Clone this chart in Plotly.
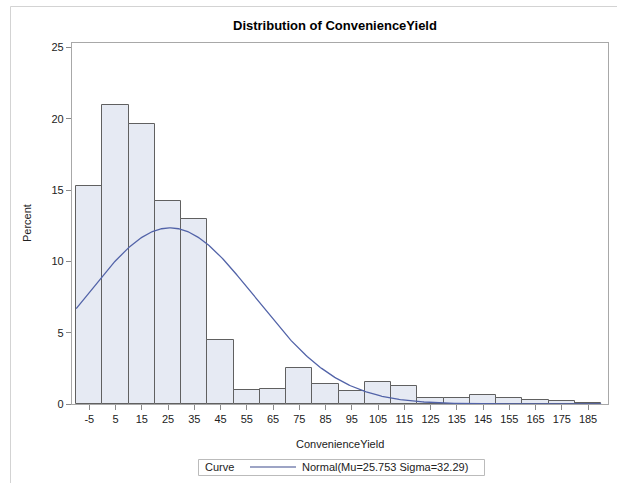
import numpy as np
import plotly.graph_objects as go

# Histogram bins (midpoints) and percent values
bin_mid = [-5, 5, 15, 25, 35, 45, 55, 65, 75, 85, 95, 105, 115, 125, 135, 145, 155, 165, 175, 185]
percent = [15.28, 20.97, 19.64, 14.25, 12.99, 4.49, 0.98, 1.05, 2.52, 1.40, 0.91, 1.56, 1.26,
           0.42, 0.42, 0.65, 0.42, 0.28, 0.21, 0.09]
BIN_WIDTH = 10
MU = 25.753
SIGMA = 32.29
x_ticks = bin_mid
y_ticks = [0, 5, 10, 15, 20, 25]

# fitted normal curve (percent scale) from the legend parameters
xc = np.arange(bin_mid[0] - BIN_WIDTH / 2, bin_mid[-1] + BIN_WIDTH / 2 + 0.01, 0.5)
yc = 100 * BIN_WIDTH * np.exp(-0.5 * ((xc - MU) / SIGMA) ** 2) / (SIGMA * np.sqrt(2 * np.pi))

FONT = "Liberation Sans, Arial, sans-serif"
CURVE_COLOR = "#5263A8"

fig = go.Figure()
fig.add_trace(go.Bar(
    x=bin_mid, y=percent, width=BIN_WIDTH,
    marker=dict(color="#E6EAF3", line=dict(color="#606060", width=1)),
    showlegend=False, hoverinfo="x+y",
))
fig.add_trace(go.Scatter(
    x=xc, y=yc, mode="lines",
    line=dict(color=CURVE_COLOR, width=1.3),
    name="Normal(Mu=25.753 Sigma=32.29)", showlegend=False,
))

# plot area: x 72..608, y 43..404 in a 617x483 window
L, R, T, B = 72, 9, 43, 79
W, H = 617, 483
pw, ph = W - L - R, H - T - B

def px(xp):
    return (xp - L) / pw

def py(yp):
    return (H - B - yp) / ph

ann = [
    dict(text="<b>Distribution of ConvenienceYield</b>", x=px(335), y=py(25),
         font=dict(size=13, color="#000000")),
    dict(text="Percent", x=px(27), y=py(223), textangle=-90,
         font=dict(size=11, color="#222222")),
    dict(text="ConvenienceYield", x=px(340), y=py(444),
         font=dict(size=11, color="#222222")),
    # legend
    dict(text="Curve", x=px(203), y=py(467), xanchor="left",
         font=dict(size=11, color="#222222")),
    dict(text="Normal(Mu=25.753 Sigma=32.29)", x=px(300), y=py(467), xanchor="left",
         font=dict(size=11, color="#222222")),
]
for a in ann:
    a.setdefault("xanchor", "center")
    a.update(xref="paper", yref="paper", yanchor="middle", showarrow=False)

shapes = [
    # outer frame
    dict(type="line", x0=px(10.5), x1=px(W + 5), y0=py(6.5), y1=py(6.5),
         line=dict(color="#D3D3D3", width=1)),
    dict(type="line", x0=px(10.5), x1=px(10.5), y0=py(6.5), y1=py(H + 5),
         line=dict(color="#D3D3D3", width=1)),
    # legend box and sample line
    dict(type="rect", x0=px(198.5), x1=px(484.5), y0=py(459.5), y1=py(475.5),
         line=dict(color="#BBBBBB", width=1), fillcolor="rgba(0,0,0,0)"),
    dict(type="line", x0=px(250), x1=px(296), y0=py(467), y1=py(467),
         line=dict(color="#3D4B8C", width=1.2)),
]
for s in shapes:
    s.update(xref="paper", yref="paper")

fig.update_layout(
    width=W, height=H,
    margin=dict(l=L, r=R, t=T, b=B, pad=0, autoexpand=False),
    paper_bgcolor="white", plot_bgcolor="white",
    font=dict(family=FONT, size=11, color="#222222"),
    bargap=0,
    showlegend=False,
    xaxis=dict(range=[-11.6, 192.6], tickvals=x_ticks, ticktext=[str(v) for v in x_ticks],
               ticks="outside", ticklen=5, tickcolor="#8A8A8A",
               showline=True, linecolor="#A8A8A8", linewidth=1.3, mirror=True,
               showgrid=False, zeroline=False, automargin=False,
               tickfont=dict(size=11, color="#222222")),
    yaxis=dict(range=[0, 25.32], tickvals=y_ticks,
               ticks="outside", ticklen=5, tickcolor="#8A8A8A",
               showline=True, linecolor="#A8A8A8", linewidth=1.3, mirror=True,
               showgrid=False, zeroline=False, automargin=False,
               tickfont=dict(size=11, color="#222222")),
    annotations=ann,
    shapes=shapes,
)

fig.write_html("out.html", config={"displayModeBar": False},
               post_script="document.body.style.margin='0';document.body.style.overflow='hidden';")
